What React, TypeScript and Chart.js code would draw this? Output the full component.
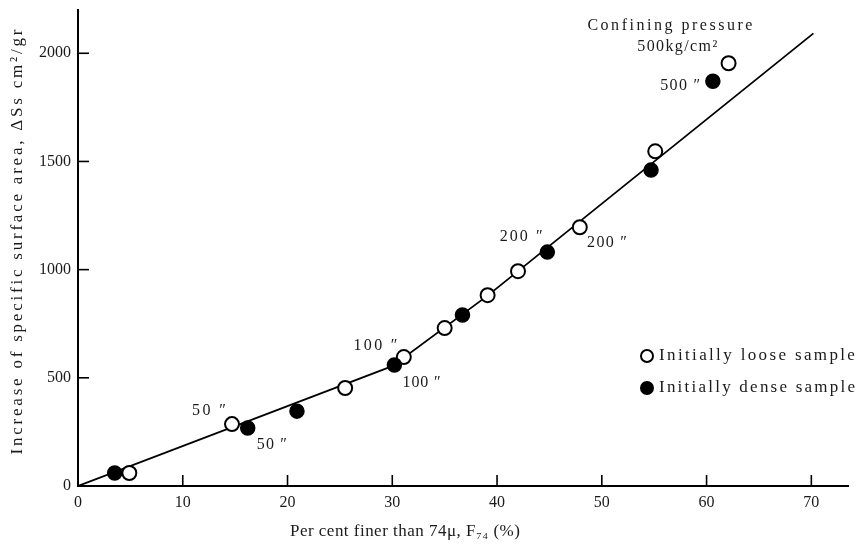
import { useEffect, useRef } from "react";
import { Chart, registerables } from "chart.js";

Chart.register(...registerables);

// ---- data ----
const looseX = [4.9, 14.7, 25.5, 31.1, 35.0, 39.1, 42.0, 47.9, 55.1, 62.1];
const looseY = [60, 286, 453, 596, 730, 882, 993, 1196, 1547, 1954];
const denseX = [3.5, 16.2, 20.9, 30.2, 36.7, 44.8, 54.7, 60.6];
const denseY = [60, 268, 346, 559, 790, 1081, 1460, 1871];
const fitX = [0, 30.0, 39.1, 70.2];
const fitY = [0, 554, 880, 2092];
const xTicks = [0, 10, 20, 30, 40, 50, 60, 70];
const yTicks = [0, 500, 1000, 1500, 2000];

const annTexts = ["Confining pressure", "500kg/cm²", "500 ″", "200 ″", "200 ″", "100 ″", "100 ″", "50 ″", "50 ″"];
const annX = [56.5, 57.2, 59.4, 42.3, 50.5, 28.4, 32.8, 12.5, 18.5];
const annY = [2129, 2028, 1848, 1150, 1122, 647, 476, 346, 189];
const annAlign = ["center", "center", "right", "center", "center", "center", "center", "center", "center"];
const annWidth = [165, 80, 40, 43, 40, 44, 38, 34, 30];

const legendLabels = ["Initially loose sample", "Initially dense sample"];
const xTitle = "Per cent finer than 74μ, F₇₄ (%)";
const yTitle = "Increase of specific surface area, ΔSs cm²/gr";

const FONT = '"Liberation Serif", "DejaVu Serif", serif';
const INK = "#1a1a1a";

function drawFit(ctx: CanvasRenderingContext2D, text: string, x: number, y: number, width: number, align: string) {
  ctx.letterSpacing = "0px";
  const w = ctx.measureText(text).width;
  const n = Array.from(text).length;
  const sp = n > 1 ? (width - w) / (n - 1) : 0;
  ctx.letterSpacing = sp.toFixed(2) + "px";
  const total = w + sp * (n - 1);
  let left = x;
  if (align === "center") left = x - total / 2;
  else if (align === "right") left = x - total;
  ctx.textAlign = "left";
  ctx.fillText(text, left, y);
  ctx.letterSpacing = "0px";
}

const decorPlugin = {
  id: "decor",
  afterDraw(chart: any) {
    const ctx: CanvasRenderingContext2D = chart.ctx;
    const xs = chart.scales.x;
    const ys = chart.scales.y;
    const area = chart.chartArea;
    ctx.save();
    ctx.strokeStyle = "#000";
    ctx.lineWidth = 1.6;
    // inward ticks
    xTicks.forEach((t) => {
      if (t === 0) return;
      const px = xs.getPixelForValue(t);
      ctx.beginPath();
      ctx.moveTo(px, area.bottom);
      ctx.lineTo(px, area.bottom - 11);
      ctx.stroke();
    });
    yTicks.forEach((t) => {
      if (t === 0) return;
      const py = ys.getPixelForValue(t);
      ctx.beginPath();
      ctx.moveTo(area.left, py);
      ctx.lineTo(area.left + 11, py);
      ctx.stroke();
    });
    ctx.fillStyle = INK;
    ctx.textBaseline = "middle";
    ctx.font = "16px " + FONT;
    // tick labels
    xTicks.forEach((t) => {
      const px = xs.getPixelForValue(t);
      ctx.textAlign = "center";
      ctx.fillText(String(t), px, area.bottom + 17);
    });
    yTicks.forEach((t) => {
      const py = ys.getPixelForValue(t);
      ctx.textAlign = "right";
      ctx.fillText(String(t), area.left - 7, py);
    });
    // axis titles
    ctx.font = "17px " + FONT;
    drawFit(ctx, xTitle, 405, 532, 230, "center");
    ctx.save();
    ctx.translate(18, 242);
    ctx.rotate(-Math.PI / 2);
    drawFit(ctx, yTitle, 0, 0, 425, "center");
    ctx.restore();
    // annotations
    ctx.font = "16px " + FONT;
    annTexts.forEach((s, i) => {
      drawFit(ctx, s, xs.getPixelForValue(annX[i]), ys.getPixelForValue(annY[i]), annWidth[i], annAlign[i]);
    });
    // legend
    ctx.font = "17px " + FONT;
    const lx = 647;
    const lys = [356, 388];
    lys.forEach((ly, i) => {
      ctx.beginPath();
      ctx.arc(lx, ly, 6, 0, Math.PI * 2);
      ctx.fillStyle = i === 0 ? "#fff" : "#000";
      ctx.fill();
      ctx.lineWidth = 2;
      ctx.strokeStyle = "#000";
      ctx.stroke();
      ctx.fillStyle = INK;
      drawFit(ctx, legendLabels[i], 659, ly, 196, "left");
    });
    ctx.restore();
  },
};

export default function App() {
  const ref = useRef<HTMLCanvasElement | null>(null);
  useEffect(() => {
    if (!ref.current) return;
    const chart = new Chart(ref.current, {
      type: "scatter",
      data: {
        datasets: [
          {
            label: legendLabels[1],
            data: denseX.map((x, i) => ({ x, y: denseY[i] })),
            pointRadius: 7,
            pointBackgroundColor: "#000",
            pointBorderColor: "#000",
            pointBorderWidth: 1.5,
          },
          {
            label: legendLabels[0],
            data: looseX.map((x, i) => ({ x, y: looseY[i] })),
            pointRadius: 7,
            pointBackgroundColor: "#fff",
            pointBorderColor: "#000",
            pointBorderWidth: 2,
          },
          {
            label: "fit",
            data: fitX.map((x, i) => ({ x, y: fitY[i] })),
            showLine: true,
            pointRadius: 0,
            borderColor: "#000",
            borderWidth: 1.8,
            fill: false,
          } as any,
        ],
      },
      options: {
        animation: false,
        responsive: false,
        devicePixelRatio: 1,
        layout: { padding: { top: 10, right: 12, left: 0, bottom: 0 } },
        plugins: { legend: { display: false }, tooltip: { enabled: false } },
        scales: {
          x: {
            type: "linear",
            min: 0,
            max: 73.5,
            grid: { display: false },
            ticks: { display: false },
            border: { display: true, color: "#000", width: 2 },
            afterFit: (s: any) => {
              s.height = 59;
            },
          },
          y: {
            type: "linear",
            min: 0,
            max: 2200,
            grid: { display: false },
            ticks: { display: false },
            border: { display: true, color: "#000", width: 2 },
            afterFit: (s: any) => {
              s.width = 78;
            },
          },
        },
      },
      plugins: [decorPlugin],
    });
    return () => chart.destroy();
  }, []);
  return (
    <div style={{ position: "fixed", left: 0, top: 0, width: 860, height: 545, background: "#fff" }}>
      <canvas ref={ref} width={860} height={545} style={{ display: "block" }} />
    </div>
  );
}
